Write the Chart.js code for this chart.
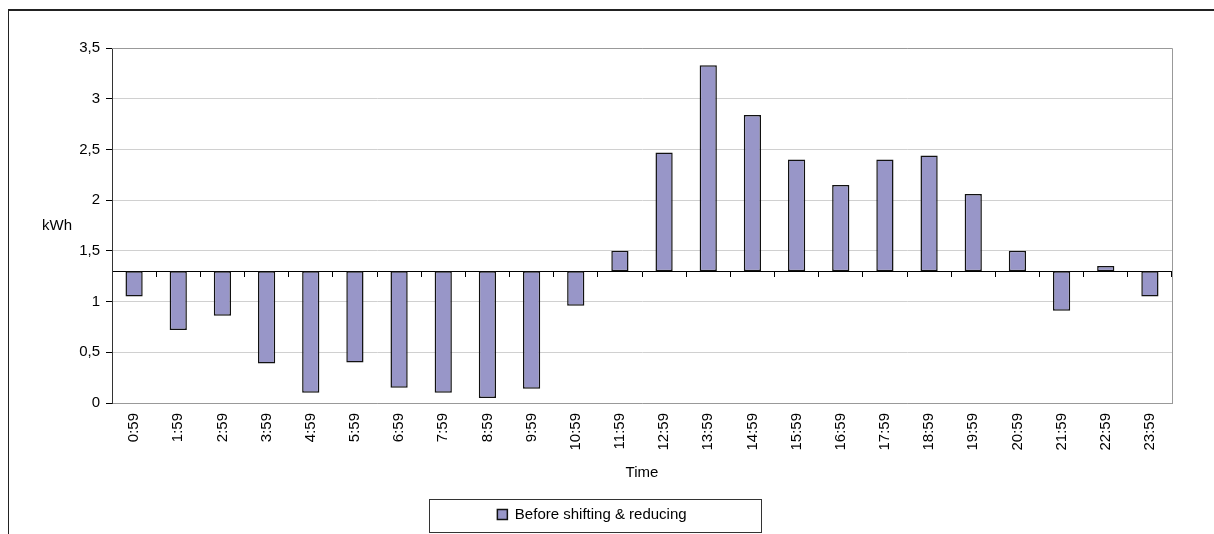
<!DOCTYPE html>
<html lang="en">

<head>
    <meta charset="UTF-8">
    <title>Before shifting &amp; reducing</title>
    <script src="https://cdn.jsdelivr.net/npm/chart.js"></script>
    <style>
        html, body { margin: 0; padding: 0; overflow: hidden; background: #fff; }
        #wrap { position: relative; width: 1214px; height: 534px; }
        #frame { position: absolute; left: 8px; top: 9px; width: 1300px; height: 600px;
                 border-left: 1px solid #222; border-top: 2px solid #222; }
        #wrap canvas { position: absolute; left: 0; top: 0; }
    </style>
</head>

<body>

    <div id="wrap">
        <div id="frame"></div>
        <canvas id="barChart" width="1214" height="534"></canvas>
    </div>

    <script>
        // hourly slots (end of each hour)
        const hours = ['0:59', '1:59', '2:59', '3:59', '4:59', '5:59', '6:59', '7:59', '8:59', '9:59', '10:59', '11:59',
            '12:59', '13:59', '14:59', '15:59', '16:59', '17:59', '18:59', '19:59', '20:59', '21:59', '22:59', '23:59'];

        // consumption in kWh
        const beforeValues = [1.05, 0.72, 0.86, 0.39, 0.10, 0.40, 0.15, 0.10, 0.05, 0.14, 0.96, 1.50,
            2.47, 3.33, 2.84, 2.40, 2.15, 2.40, 2.44, 2.06, 1.50, 0.91, 1.35, 1.05];

        // the category axis crosses the value axis here
        const baseLine = 1.3;

        const yMin = 0, yMax = 3.5, yStep = 0.5;

        const font = { family: '"Liberation Sans", Arial, sans-serif', size: 15 };

        // frame on top/right of the plot, the horizontal "kWh" title and the legend box
        const decorations = {
            id: 'decorations',
            beforeDatasetsDraw(chart) {
                const { ctx, chartArea: a } = chart;
                ctx.save();
                ctx.strokeStyle = '#999';
                ctx.lineWidth = 1;
                ctx.beginPath();
                ctx.moveTo(a.left, Math.round(a.top) + 0.5);
                ctx.lineTo(Math.round(a.right) + 0.5, Math.round(a.top) + 0.5);
                ctx.lineTo(Math.round(a.right) + 0.5, a.bottom);
                ctx.stroke();
                ctx.restore();
            },
            afterDraw(chart) {
                const { ctx, chartArea: a } = chart;
                ctx.save();
                ctx.font = '15px "Liberation Sans", Arial, sans-serif';
                ctx.fillStyle = '#000';
                ctx.textAlign = 'left';
                ctx.textBaseline = 'middle';
                ctx.fillText('kWh', 42, (a.top + a.bottom) / 2);

                const hb = chart.legend.legendHitBoxes[0];
                if (hb) {
                    ctx.strokeStyle = '#333';
                    ctx.lineWidth = 1;
                    const x0 = Math.round(hb.left - 68) + 0.5;
                    const x1 = Math.round(hb.left + hb.width + 74) + 0.5;
                    const y0 = Math.round(hb.top + hb.height / 2 - 16) + 0.5;
                    const y1 = Math.round(hb.top + hb.height / 2 + 17) + 0.5;
                    ctx.strokeRect(x0, y0, x1 - x0, y1 - y0);
                }
                ctx.restore();
            }
        };

        const ctx = document.getElementById('barChart').getContext('2d');
        new Chart(ctx, {
            type: 'bar',
            data: {
                labels: hours,
                datasets: [{
                    label: 'Before shifting & reducing',
                    data: beforeValues.map(v => [baseLine, v]),
                    backgroundColor: '#9896C8',
                    borderColor: '#111',
                    borderWidth: 1.5,
                    borderSkipped: false,
                    barPercentage: 0.39,
                    categoryPercentage: 1
                }]
            },
            options: {
                responsive: false,
                animation: false,
                layout: { padding: { left: 12, right: 42, top: 48, bottom: 2 } },
                plugins: {
                    legend: {
                        position: 'bottom',
                        labels: { font: font, color: '#000', boxWidth: 10, boxHeight: 10 }
                    },
                    tooltip: { enabled: false }
                },
                scales: {
                    x: {
                        position: 'bottom',
                        grid: { display: true, drawOnChartArea: false, drawTicks: false },
                        border: { color: '#999', width: 1 },
                        ticks: { font: font, color: '#000', minRotation: 90, maxRotation: 90, padding: 10, autoSkip: false },
                        title: { display: true, text: 'Time', font: font, color: '#000', padding: { top: 4, bottom: 15 } },
                        afterFit(scale) { scale.height = 94; }
                    },
                    xBase: {
                        type: 'category',
                        position: { y: baseLine },
                        offset: true,
                        ticks: { display: false },
                        grid: { drawOnChartArea: false, offset: true, tickLength: 5, color: '#000' },
                        border: { color: '#000', width: 1 }
                    },
                    y: {
                        min: yMin,
                        max: yMax,
                        ticks: {
                            stepSize: yStep,
                            font: font,
                            color: '#000',
                            padding: 6,
                            callback: v => String(v).replace('.', ',')
                        },
                        grid: { color: '#d0d0d0', tickColor: '#000', tickLength: 6 },
                        border: { color: '#333', width: 1 },
                        afterFit(scale) { scale.width = 100; }
                    }
                }
            },
            plugins: [decorations]
        });
    </script>

</body>

</html>
